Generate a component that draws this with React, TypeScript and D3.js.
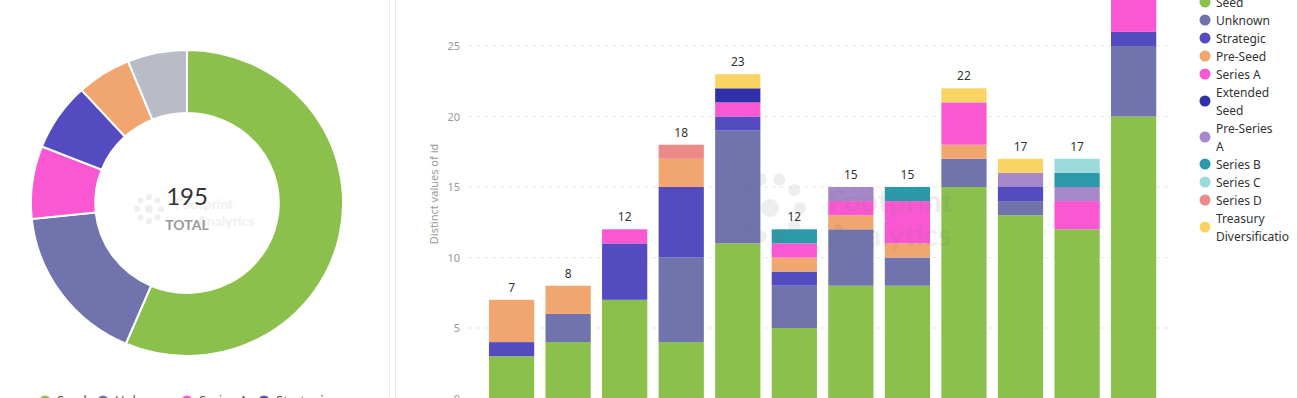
import React from "react";
import * as d3 from "d3";

// stacked bar data, one value per period (bottom to top order = keys order)
const periods = ["P1", "P2", "P3", "P4", "P5", "P6", "P7", "P8", "P9", "P10", "P11", "P12"];
const keys = ["Seed", "Unknown", "Strategic", "Pre-Seed", "Series A", "Extended Seed", "Pre-Series A", "Series B", "Series C", "Series D", "Treasury Diversification"];

const seed = [3, 4, 7, 4, 11, 5, 8, 8, 15, 13, 12, 20];
const unknown = [0, 2, 0, 6, 8, 3, 4, 2, 2, 1, 0, 5];
const strategic = [1, 0, 4, 5, 1, 1, 0, 0, 0, 1, 0, 1];
const preSeed = [3, 2, 0, 2, 0, 1, 1, 1, 1, 0, 0, 0];
const seriesA = [0, 0, 1, 0, 1, 1, 1, 3, 3, 0, 2, 3];
const extendedSeed = [0, 0, 0, 0, 1, 0, 0, 0, 0, 0, 0, 0];
const preSeriesA = [0, 0, 0, 0, 0, 0, 1, 0, 0, 1, 1, 0];
const seriesB = [0, 0, 0, 0, 0, 1, 0, 1, 0, 0, 1, 0];
const seriesC = [0, 0, 0, 0, 0, 0, 0, 0, 0, 0, 1, 0];
const seriesD = [0, 0, 0, 1, 0, 0, 0, 0, 0, 0, 0, 0];
const treasury = [0, 0, 0, 0, 1, 0, 0, 0, 1, 1, 0, 0];

const yTicks = [0, 5, 10, 15, 20, 25];

// donut data
const pieLabels = ["Seed", "Unknown", "Series A", "Strategic", "Pre-Seed", "Others"];
const pieValues = [110, 33, 15, 14, 11, 12];

const colors: Record<string, string> = {
  "Seed": "#8bc04c",
  "Unknown": "#7073ac",
  "Strategic": "#534bbf",
  "Pre-Seed": "#f2a66f",
  "Series A": "#fa58d2",
  "Extended Seed": "#3030a8",
  "Pre-Series A": "#a687c9",
  "Series B": "#2a9aab",
  "Series C": "#9adadb",
  "Series D": "#ec8a88",
  "Treasury Diversification": "#fad462",
  "Others": "#b9bcc7",
};

const legendRows = [
  { key: "Seed", lines: ["Seed"] },
  { key: "Unknown", lines: ["Unknown"] },
  { key: "Strategic", lines: ["Strategic"] },
  { key: "Pre-Seed", lines: ["Pre-Seed"] },
  { key: "Series A", lines: ["Series A"] },
  { key: "Extended Seed", lines: ["Extended", "Seed"] },
  { key: "Pre-Series A", lines: ["Pre-Series", "A"] },
  { key: "Series B", lines: ["Series B"] },
  { key: "Series C", lines: ["Series C"] },
  { key: "Series D", lines: ["Series D"] },
  { key: "Treasury Diversification", lines: ["Treasury", "Diversificatio"] },
];

const pieLegend = [
  { key: "Seed", x: 45 },
  { key: "Unknown", x: 103 },
  { key: "Series A", x: 187 },
  { key: "Strategic", x: 264 },
];

export default function App() {
  const series = [seed, unknown, strategic, preSeed, seriesA, extendedSeed, preSeriesA, seriesB, seriesC, seriesD, treasury];
  const table = periods.map((p, i) => {
    const row: any = { period: p };
    keys.forEach((k, j) => (row[k] = series[j][i]));
    return row;
  });
  const stacked = d3.stack().keys(keys)(table);
  const totals = table.map((r) => d3.sum(keys, (k) => r[k]));

  const x = d3.scaleBand().domain(periods).range([483.3, 1161.9]).paddingInner(0.2).paddingOuter(0.1);
  const y = d3.scaleLinear().domain([0, 25]).range([398.5, 46]);

  const pie = d3.pie<number>().sort(null).value((d) => d)(pieValues);
  const arc = d3.arc<d3.PieArcDatum<number>>().innerRadius(90).outerRadius(153);

  const font = "'Noto Sans', 'DejaVu Sans', sans-serif";

  let legendY = 2;
  const legendItems = legendRows.map((r) => {
    const item = { ...r, y: legendY };
    legendY += 18 * r.lines.length;
    return item;
  });

  return (
    <svg width={1297} height={398} style={{ position: "absolute", left: 0, top: 0, background: "#fff" }} fontFamily={font}>
      {/* panel borders */}
      <line x1={389.5} x2={389.5} y1={0} y2={398} stroke="#ececec" />
      <line x1={395.5} x2={395.5} y1={0} y2={398} stroke="#ececec" />

      {/* donut */}
      <g transform="translate(187,203) scale(1.02,1)">
        {pie.map((d, i) => (
          <path key={i} d={arc(d) as string} fill={colors[pieLabels[i]]} stroke="#fff" strokeWidth={2} />
        ))}
      </g>
      <g transform="translate(187,203)">
        <g opacity={0.13} fill="#888">
          {d3.range(8).map((i) => (
            <circle key={i} cx={-38 + 12 * Math.cos((i * Math.PI) / 4)} cy={6 + 12 * Math.sin((i * Math.PI) / 4)} r={3} />
          ))}
          <circle cx={-38} cy={6} r={4} />
          <text x={-12} y={6} fontSize={14} fontWeight="bold" fontFamily="Lato">Footprint</text>
          <text x={10} y={23} fontSize={14} fontWeight="bold" fontFamily="Lato">Analytics</text>
        </g>
        <text y={2} textAnchor="middle" fontSize={24} fill="#333" fontFamily="Lato">195</text>
        <text y={27} textAnchor="middle" fontSize={14} fill="#999" fontFamily="Lato" fontWeight="bold">TOTAL</text>
      </g>

      {pieLegend.map((l) => (
        <g key={l.key}>
          <circle cx={l.x} cy={401} r={5.5} fill={colors[l.key]} />
          <text x={l.x + 12} y={405} fontSize={13} fill="#555">{l.key}</text>
        </g>
      ))}

      {/* grid and y axis */}
      {yTicks.map((t) => (
        <g key={t}>
          <line x1={468} x2={1172} y1={y(t)} y2={y(t)} stroke="#e9e9e9" strokeDasharray="4,4" />
          <text x={460} y={y(t) + 4} textAnchor="end" fontSize={11} fill="#999">{t}</text>
        </g>
      ))}
      <text transform="translate(438,194) rotate(-90)" textAnchor="middle" fontSize={11} fill="#999">
        Distinct values of id
      </text>

      {/* bars */}
      {stacked.map((s) => (
        <g key={s.key} fill={colors[s.key]}>
          {s.map((d, i) =>
            d[1] > d[0] ? (
              <rect key={i} x={x(periods[i])} width={x.bandwidth()} y={y(d[1])} height={y(d[0]) - y(d[1])} />
            ) : null
          )}
        </g>
      ))}
      {totals.map((t, i) => (
        <text key={i} x={(x(periods[i]) as number) + x.bandwidth() / 2} y={y(t) - 8} textAnchor="middle" fontSize={12} fill="#333">
          {t}
        </text>
      ))}

      {/* watermark */}
      <g opacity={0.12} fill="#777">
        {d3.range(10).map((i) => (
          <circle key={i} cx={770 + 30 * Math.cos((i * Math.PI) / 5)} cy={208 + 30 * Math.sin((i * Math.PI) / 5)} r={6} />
        ))}
        <circle cx={770} cy={208} r={9} />
        <text x={828} y={212} fontSize={30} fontWeight="bold" fontFamily="Lato">Footprint</text>
        <text x={828} y={246} fontSize={30} fontWeight="bold" fontFamily="Lato">Analytics</text>
      </g>

      {/* legend */}
      {legendItems.map((l) => (
        <g key={l.key}>
          <circle cx={1205} cy={l.y + ((l.lines.length - 1) * 18) / 2} r={5.5} fill={colors[l.key]} />
          {l.lines.map((ln, j) => (
            <text key={j} x={1216} y={l.y + j * 18 + 4.5} fontSize={12} fill="#333">{ln}</text>
          ))}
        </g>
      ))}
    </svg>
  );
}
